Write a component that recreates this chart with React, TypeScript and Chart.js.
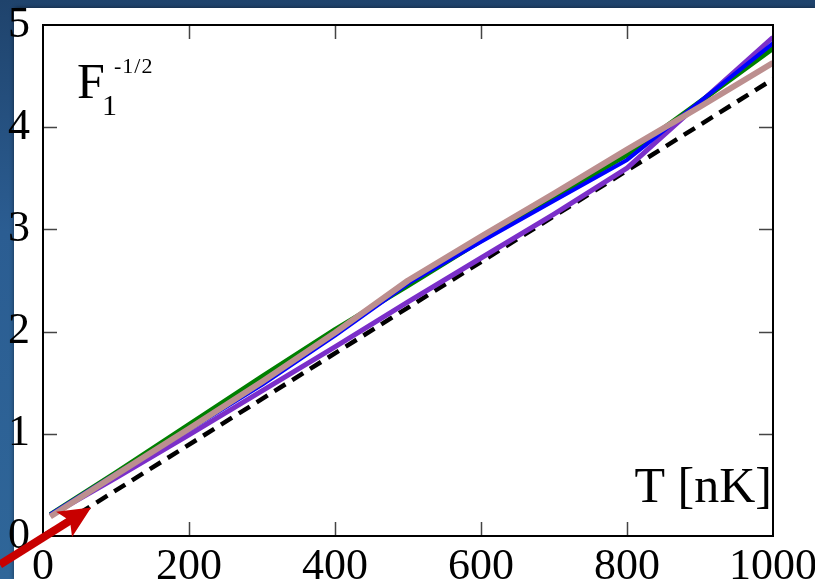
import React, { useEffect, useRef } from "react";
import { Chart, registerables } from "chart.js";

Chart.register(...registerables);

// Temperature grid (nK) shared by the four computed curves
const temperatures = [10, 100, 200, 300, 400, 500, 600, 700, 800, 900, 1000];
const purpleF = [0.2, 0.57, 0.99, 1.42, 1.85, 2.29, 2.72, 3.15, 3.6, 4.24, 4.88];
const blueF = [0.21, 0.61, 1.04, 1.48, 1.96, 2.47, 2.88, 3.28, 3.68, 4.25, 4.82];
const greenF = [0.21, 0.62, 1.09, 1.56, 2.02, 2.45, 2.89, 3.31, 3.73, 4.25, 4.77];
const rosyF = [0.19, 0.6, 1.05, 1.51, 1.99, 2.5, 2.93, 3.35, 3.78, 4.2, 4.63];

// Straight reference line (dashed)
const referenceT = [0, 1000];
const referenceF = [0, 4.47];

// Arrow pointing at the low-temperature end: tail and tip in data units
const arrowTailT = -59;
const arrowTailF = -0.28;
const arrowTipT = 66;
const arrowTipF = 0.28;

const xTickValues = [0, 200, 400, 600, 800, 1000];
const yTickValues = [0, 1, 2, 3, 4, 5];

const SERIF = "'Liberation Serif', 'Times New Roman', serif";

const toPoints = (xs: number[], ys: number[]) => xs.map((x, i) => ({ x, y: ys[i] }));

const framePlugin = {
  id: "frameAndNotes",
  afterDatasetsDraw(chart: any) {
    const { ctx, chartArea } = chart;
    const { left, right, top, bottom } = chartArea;
    const xs = chart.scales.x;
    const ys = chart.scales.y;
    ctx.save();

    // inward tick marks on all four sides
    ctx.strokeStyle = "#444";
    ctx.lineWidth = 1.5;
    const len = 14;
    ctx.beginPath();
    xTickValues.forEach((v) => {
      if (v === xs.min || v === xs.max) return;
      const px = Math.round(xs.getPixelForValue(v)) + 0.5;
      ctx.moveTo(px, bottom);
      ctx.lineTo(px, bottom - len);
      ctx.moveTo(px, top);
      ctx.lineTo(px, top + len);
    });
    yTickValues.forEach((v) => {
      if (v === ys.min || v === ys.max) return;
      const py = Math.round(ys.getPixelForValue(v)) + 0.5;
      ctx.moveTo(left, py);
      ctx.lineTo(left + len, py);
      ctx.moveTo(right, py);
      ctx.lineTo(right - len, py);
    });
    ctx.stroke();

    // frame
    ctx.strokeStyle = "#000";
    ctx.lineWidth = 2;
    ctx.strokeRect(left, top, right - left, bottom - top);

    // axis notes
    ctx.fillStyle = "#000";
    ctx.textBaseline = "alphabetic";
    ctx.textAlign = "left";
    ctx.font = `50px ${SERIF}`;
    ctx.fillText("F", left + 34, top + 73);
    ctx.font = `30px ${SERIF}`;
    ctx.fillText("1", left + 59, top + 90);
    ctx.font = `22px ${SERIF}`;
    (ctx as any).letterSpacing = "1px";
    ctx.fillText("-1/2", left + 71, top + 48);
    (ctx as any).letterSpacing = "0px";
    ctx.textAlign = "right";
    ctx.font = `50px ${SERIF}`;
    ctx.fillText("T [nK]", right - 1, bottom - 34);

    // red arrow
    const x0 = xs.getPixelForValue(arrowTailT);
    const y0 = ys.getPixelForValue(arrowTailF);
    const x1 = xs.getPixelForValue(arrowTipT);
    const y1 = ys.getPixelForValue(arrowTipF);
    const ang = Math.atan2(y1 - y0, x1 - x0);
    const headLen = 32;
    const headHalf = 15;
    const bx = x1 - headLen * Math.cos(ang);
    const by = y1 - headLen * Math.sin(ang);
    ctx.strokeStyle = "#c80000";
    ctx.fillStyle = "#c80000";
    ctx.lineWidth = 8;
    ctx.lineCap = "butt";
    ctx.beginPath();
    ctx.moveTo(x0, y0);
    ctx.lineTo(bx + 8 * Math.cos(ang), by + 8 * Math.sin(ang));
    ctx.stroke();
    ctx.beginPath();
    ctx.moveTo(x1, y1);
    ctx.lineTo(bx - headHalf * Math.sin(ang), by + headHalf * Math.cos(ang));
    ctx.lineTo(bx + 7 * Math.cos(ang), by + 7 * Math.sin(ang));
    ctx.lineTo(bx + headHalf * Math.sin(ang), by - headHalf * Math.cos(ang));
    ctx.closePath();
    ctx.fill();

    ctx.restore();
  },
};

export default function App() {
  const canvasRef = useRef<HTMLCanvasElement | null>(null);

  useEffect(() => {
    if (!canvasRef.current) return;
    const line = (data: number[], color: string, width: number, order: number) => ({
      data: toPoints(temperatures, data),
      borderColor: color,
      backgroundColor: color,
      borderWidth: width,
      pointRadius: 0,
      tension: 0,
      borderJoinStyle: "round" as const,
      fill: false,
      order,
    });
    const chart = new Chart(canvasRef.current, {
      type: "line",
      data: {
        datasets: [
          {
            data: toPoints(referenceT, referenceF),
            borderColor: "#000",
            borderWidth: 4.5,
            borderDash: [13, 8],
            pointRadius: 0,
            fill: false,
            order: 5,
          },
          line(purpleF, "#7b2fc9", 5, 4),
          line(greenF, "#008000", 5, 3),
          line(blueF, "#0000ff", 4, 2),
          line(rosyF, "#bc8f8f", 6, 1),
        ],
      },
      options: {
        responsive: false,
        animation: false,
        layout: { padding: { top: 25, right: 42, left: 0, bottom: 0 } },
        plugins: { legend: { display: false }, tooltip: { enabled: false } },
        scales: {
          x: {
            type: "linear",
            min: 0,
            max: 1000,
            afterFit: (s: any) => {
              s.height = 43;
              s.paddingLeft = 0;
              s.paddingRight = 0;
            },
            afterBuildTicks: (s: any) => {
              s.ticks = xTickValues.map((value) => ({ value }));
            },
            grid: { display: false },
            border: { display: false },
            ticks: {
              font: { family: SERIF, size: 44 },
              color: "#000",
              padding: -3,
              maxRotation: 0,
              autoSkip: false,
              callback: (v: any) => String(v),
            },
          },
          y: {
            type: "linear",
            min: 0,
            max: 5,
            afterFit: (s: any) => {
              s.width = 43;
              s.paddingTop = 0;
              s.paddingBottom = 0;
            },
            afterBuildTicks: (s: any) => {
              s.ticks = yTickValues.map((value) => ({ value }));
            },
            grid: { display: false },
            border: { display: false },
            ticks: {
              font: { family: SERIF, size: 44 },
              color: "#000",
              padding: 5,
              autoSkip: false,
              callback: (v: any) => String(v),
            },
          },
        },
      },
      plugins: [framePlugin],
    });
    return () => chart.destroy();
  }, []);

  return (
    <div
      style={{
        position: "fixed",
        left: 0,
        top: 0,
        width: 815,
        height: 579,
        overflow: "hidden",
        background: "linear-gradient(180deg, #1f436c 0%, #2b5d92 40%, #2f6699 100%)",
      }}
    >
      <div
        style={{
          position: "absolute",
          left: 14,
          top: 8,
          width: 801,
          height: 571,
          background: "#fff",
          borderTopLeftRadius: 4,
          boxShadow: "0 0 4px rgba(0,0,0,0.5)",
        }}
      />
      <canvas
        ref={canvasRef}
        width={815}
        height={579}
        style={{ position: "absolute", left: 0, top: 0, width: 815, height: 579 }}
      />
    </div>
  );
}
